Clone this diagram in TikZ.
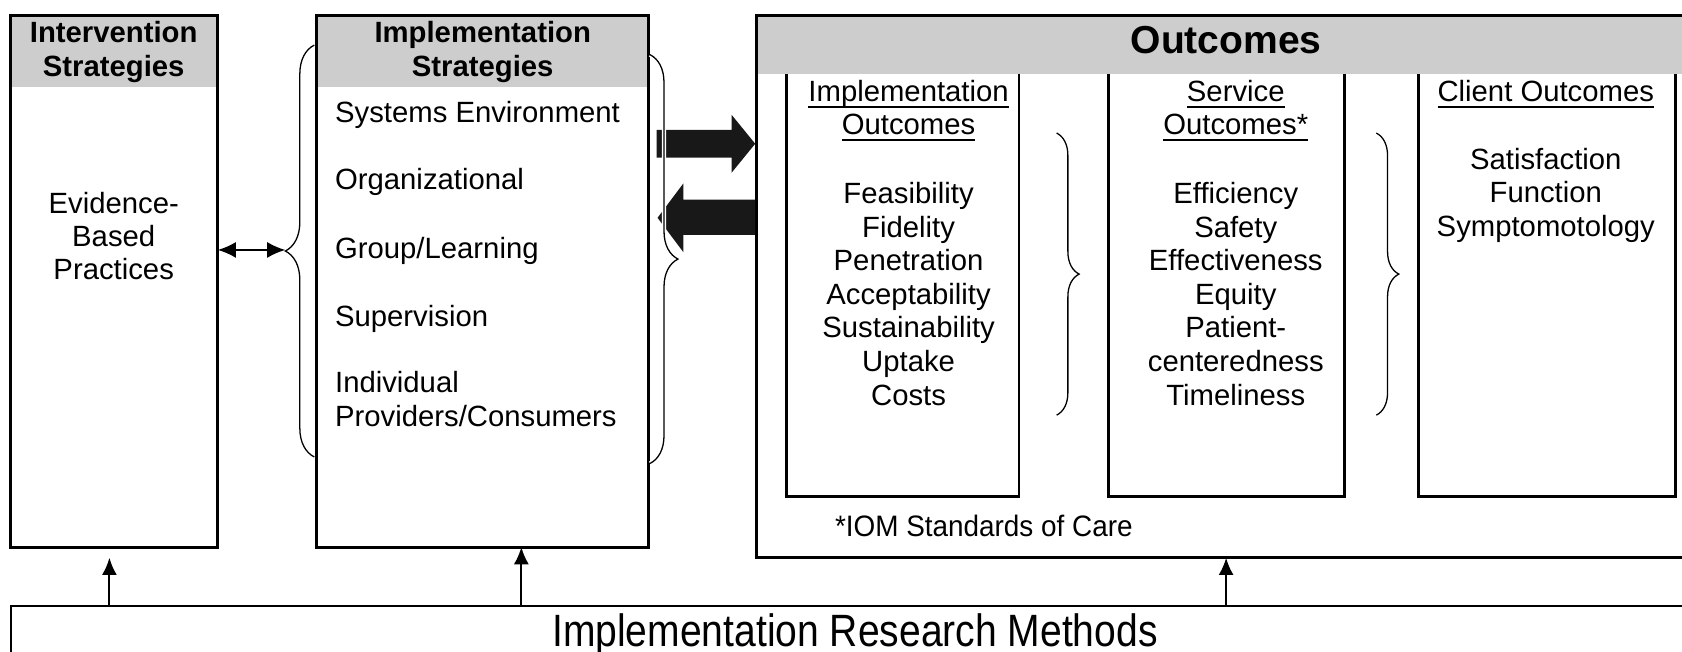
\documentclass[tikz,border=0pt]{standalone}
\usepackage{fontspec}
\setmainfont{Liberation Sans}
\usetikzlibrary{decorations.pathreplacing,arrows.meta,calc}
\definecolor{hdrgray}{RGB}{205,205,205}
\definecolor{arrblack}{RGB}{24,24,24}
\newcommand\ulx[1]{\leavevmode\setbox0\hbox{#1}\rlap{\rule[-3pt]{\wd0}{0.8pt}}\box0}
\begin{document}
\begin{tikzpicture}[x=0.5pt,y=-0.5pt,
  frame/.style={draw=none, inner sep=0pt, outer sep=0pt, rectangle},
  outerline/.style={line width=1.4pt},
  innerline/.style={line width=1.3pt},
  txt/.style={font=\fontsize{13.65}{15.65}\selectfont, inner sep=0pt, align=center},
  hd/.style={font=\fontsize{13.65}{16}\selectfont\bfseries, inner sep=0pt, align=center},
  big/.style={font=\fontsize{18.2}{21}\selectfont, inner sep=0pt},
  item/.style={font=\fontsize{13.65}{15.65}\selectfont, inner sep=0pt, anchor=base west},
  bracedec/.style={decorate, decoration={brace, amplitude=#1}, line width=0.6pt},
  uparrow/.style={-{Latex[length=8pt,width=7pt]}, line width=0.9pt},
  dblarrow/.style={{Latex[length=8.5pt,width=7.5pt]}-{Latex[length=8.5pt,width=7.5pt]}, line width=0.9pt},
  bigarrow/.style={fill=arrblack}
]
\useasboundingbox (0,0) rectangle (1568,607);
\clip (0,0) rectangle (1568,607);

% frames
\node[frame, minimum width=96.5pt, minimum height=248pt] (interv) at (106.5,262) {};
\node[frame, minimum width=155pt, minimum height=248pt] (implst) at (450,262) {};
\node[frame, minimum width=447.5pt, minimum height=253pt] (outc) at (1152.5,267) {};
\node[frame, minimum width=108.5pt, minimum height=197pt] (io) at (841.5,266) {};
\node[frame, minimum width=110pt, minimum height=197pt] (so) at (1143,266) {};
\node[frame, minimum width=120pt, minimum height=197pt] (co) at (1442,266) {};
\node[frame, minimum width=795pt, minimum height=37.5pt] (bottom) at (805,602.5) {};

% header fills
\fill[hdrgray] (interv.north west) rectangle ($(interv.north east)+(0,67)$);
\fill[hdrgray] (implst.north west) rectangle ($(implst.north east)+(0,67)$);
\fill[hdrgray] (outc.north west) rectangle ($(outc.north east)+(0,55)$);

% borders
\draw[outerline] (interv.north west) rectangle (interv.south east);
\draw[outerline] (implst.north west) rectangle (implst.south east);
\draw[outerline] (outc.north west) rectangle (outc.south east);
\draw[innerline] (io.north west) -- (io.south west) -- (io.south east) -- (io.north east);
\draw[innerline] (so.north west) -- (so.south west) -- (so.south east) -- (so.north east);
\draw[innerline] (co.north west) -- (co.south west) -- (co.south east) -- (co.north east);
\draw[line width=1pt] (bottom.north west) rectangle (bottom.south east);

% big arrows between strategies and outcomes
\begin{scope}[shift={(implst.north east)}]
  \fill[bigarrow] (7,107) -- (77,107) -- (77,93) -- (99,120) -- (77,147) -- (77,133) -- (7,133) -- cycle;
  \fill[bigarrow] (99,172) -- (32,172) -- (32,157) -- (8,189) -- (32,221) -- (32,205) -- (99,205) -- cycle;
\end{scope}

% braces
\draw[bracedec=13.5pt] (293,426) -- (293,42);
\draw[white, line width=2pt, decorate, decoration={brace, amplitude=13pt}] (606,51) -- (606,432);
\draw[bracedec=13pt] (606,51) -- (606,432);
\draw[bracedec=10.5pt] (985,124) -- (985,387);
\draw[bracedec=10.5pt] (1283,124) -- (1283,387);

% double arrow
\coordinate (lbtip) at (266,233);
\draw[dblarrow] (interv.east |- lbtip) -- (lbtip);

% upward arrows
\coordinate (ax1) at (102,0);
\coordinate (ax1tip) at (102,520);
\coordinate (ax2) at (486,0);
\coordinate (ax3) at (1143,0);
\draw[uparrow] (bottom.north -| ax1) -- (ax1tip);
\draw[uparrow] (bottom.north -| ax2) -- (implst.south -| ax2);
\draw[uparrow] (bottom.north -| ax3) -- (outc.south -| ax3);

% texts
\node[hd] (intervh) at (106,48.5) {Intervention\\Strategies};
\node[txt, font=\fontsize{13.65}{15.25}\selectfont] (ebp) at (106,220) {Evidence-\\Based\\Practices};
\node[hd] (implh) at (450,48.5) {Implementation\\Strategies};
\node[item] (s1) at (312,114) {Systems Environment};
\node[item] (s2) at (312,177) {Organizational};
\node[item] (s3) at (312,241) {Group/Learning};
\node[item] (s4) at (312,304) {Supervision};
\node[item] (s5) at (312,366) {Individual};
\node[item] (s6) at (312,398) {Providers/Consumers};

\node[big, font=\fontsize{18.2}{21}\selectfont\bfseries, anchor=base] (outh) at (1143,50) {Outcomes};

\node[txt] (ioh) at (847,103) {\ulx{Implementation}\\\ulx{Outcomes}};
\node[txt] (ioi) at (847,274) {Feasibility\\Fidelity\\Penetration\\Acceptability\\Sustainability\\Uptake\\Costs};
\node[txt] (soh) at (1152,103) {\ulx{Service}\\\ulx{Outcomes*}};
\node[txt] (soi) at (1152,274) {Efficiency\\Safety\\Effectiveness\\Equity\\Patient-\\centeredness\\Timeliness};
\node[txt] (coh) at (1441,87.5) {\ulx{Client Outcomes}};
\node[txt] (coi) at (1441,182) {Satisfaction\\Function\\Symptomotology};

\node[item, font=\fontsize{13}{15}\selectfont] (iom) at (778,500) {\scalebox{1}[1.06]{*IOM Standards of Care}};
\node[big, anchor=base] (irm) at (797,603) {\scalebox{1}[1.16]{Implementation Research Methods}};
\end{tikzpicture}
\end{document}
